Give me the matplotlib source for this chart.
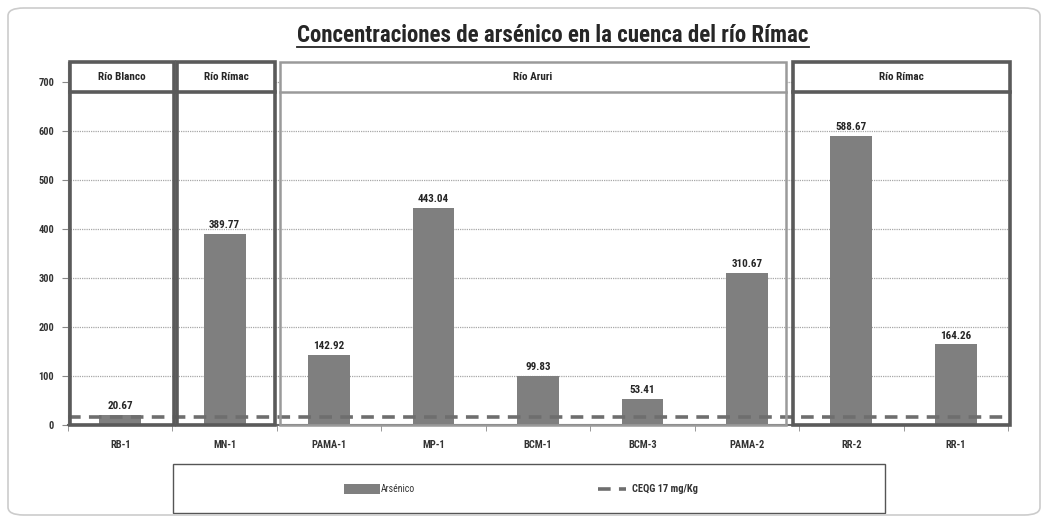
import matplotlib
matplotlib.use("Agg")
import matplotlib.pyplot as plt
from matplotlib.patches import Rectangle, FancyBboxPatch
from matplotlib.lines import Line2D
import numpy as np

categories = ["RB-1", "MN-1", "PAMA-1", "MP-1", "BCM-1", "BCM-3", "PAMA-2", "RR-2", "RR-1"]
arsenico = [20.67, 389.77, 142.92, 443.04, 99.83, 53.41, 310.67, 588.67, 164.26]
ceqg = 17
groups = ["Río Blanco", "Río Rímac", "Río Aruri", "Río Rímac"]
yticks = [0, 100, 200, 300, 400, 500, 600, 700]

FONT = ["Roboto Condensed", "Open Sans", "DejaVu Sans"]
plt.rcParams["font.family"] = FONT

W, H = 1048, 522
fig = plt.figure(figsize=(W / 100, H / 100), dpi=100)
fig.patch.set_facecolor("white")

def fx(px):
    return px / W

def fy(py):
    return 1 - py / H

ax = fig.add_axes([fx(68), fy(425), fx(1008) - fx(68), fy(57.2) - fy(425)])
x = np.arange(len(categories))
ax.set_xlim(-0.5, len(categories) - 0.5)
ax.set_ylim(0, 750)

ax.yaxis.grid(True, color="#a8a8a8", linestyle=(0, (1, 0.8)), linewidth=0.9)
ax.set_axisbelow(True)

ax.bar(x, arsenico, width=0.4, color="#7f7f7f", zorder=3)
for xi, v in zip(x, arsenico):
    ax.text(xi, v + 8, f"{v:.2f}", ha="center", va="bottom", fontsize=8,
            fontweight="bold", color="#262626", zorder=5)

ax.plot([-0.5, len(categories) - 0.5], [ceqg, ceqg], color="#6e6e6e", lw=2.6,
        dashes=(3.5, 2.3), zorder=4)

# group boxes
box_edges = [(-0.48, 0.515), (0.544, 1.482), (1.53, 6.375), (6.44, 8.52)]
box_colors = ["#5a5a5a", "#5a5a5a", "#9a9a9a", "#5a5a5a"]
box_lw = [2.6, 2.6, 1.8, 2.6]
top_v, head_v = 740, 679
for (x0, x1), name, c, lw in zip(box_edges, groups, box_colors, box_lw):
    ax.add_patch(Rectangle((x0, head_v), x1 - x0, top_v - head_v, facecolor="white",
                           edgecolor="none", clip_on=False, zorder=5.5))
    ax.add_patch(Rectangle((x0, 0), x1 - x0, top_v, fill=False, edgecolor=c, lw=lw,
                           clip_on=False, zorder=6))
    ax.plot([x0, x1], [head_v, head_v], color=c, lw=lw, clip_on=False, zorder=6)
    ax.text((x0 + x1) / 2, (top_v + head_v) / 2, name, ha="center", va="center",
            fontsize=8, fontweight="bold", color="#262626", zorder=7)

ax.set_xticks(x)
ax.set_xticklabels(categories, fontsize=7.5, fontweight="bold", color="#333333")
ax.set_xticks(np.arange(-0.5, len(categories)), minor=True)
ax.tick_params(axis="x", which="major", length=0, pad=11)
ax.tick_params(axis="x", which="minor", length=4, color="#888888")
ax.set_yticks(yticks)
ax.set_yticklabels([str(t) for t in yticks], fontsize=7.5, fontweight="bold", color="#333333")
ax.tick_params(axis="y", length=4, color="#888888", pad=6)

for s in ["top", "right"]:
    ax.spines[s].set_visible(False)
ax.spines["left"].set_color("#888888")
ax.spines["left"].set_bounds(0, 740)
ax.spines["bottom"].set_color("#6a6a6a")
ax.spines["bottom"].set_linewidth(1.5)

# title with underline matching its extent
title = fig.text(fx(553), fy(36), "Concentraciones de arsénico en la cuenca del río Rímac",
                 ha="center", va="center", fontsize=16.5, fontweight="bold", color="#262626")
fig.canvas.draw()
bb = title.get_window_extent(renderer=fig.canvas.get_renderer())
fig.add_artist(Line2D([bb.x0 / W, bb.x1 / W], [fy(47), fy(47)], color="#262626", lw=1.3))

# legend box
fig.add_artist(Rectangle((fx(173), fy(513)), fx(885) - fx(173), fy(464) - fy(513),
                         fill=False, edgecolor="#555555", lw=1.0, transform=fig.transFigure))
fig.add_artist(Rectangle((fx(344), fy(494)), fx(380) - fx(344), fy(484) - fy(494),
                         facecolor="#7f7f7f", edgecolor="none", transform=fig.transFigure))
fig.text(fx(381), fy(489), "Arsénico", ha="left", va="center", fontsize=7, color="#333333")
fig.add_artist(Line2D([fx(598), fx(626)], [fy(489), fy(489)], color="#6e6e6e", lw=2.6,
                      dashes=(3.5, 2.3)))
fig.text(fx(632), fy(489), "CEQG 17 mg/Kg", ha="left", va="center", fontsize=7.5,
         fontweight="bold", color="#333333")

# outer rounded border
fig.add_artist(FancyBboxPatch((fx(8), fy(515)), fx(1040) - fx(8), fy(8) - fy(515),
                              boxstyle="round,pad=0,rounding_size=0.015",
                              fill=False, edgecolor="#cccccc", lw=1.2,
                              transform=fig.transFigure))

fig.savefig("out.png", dpi=100)
